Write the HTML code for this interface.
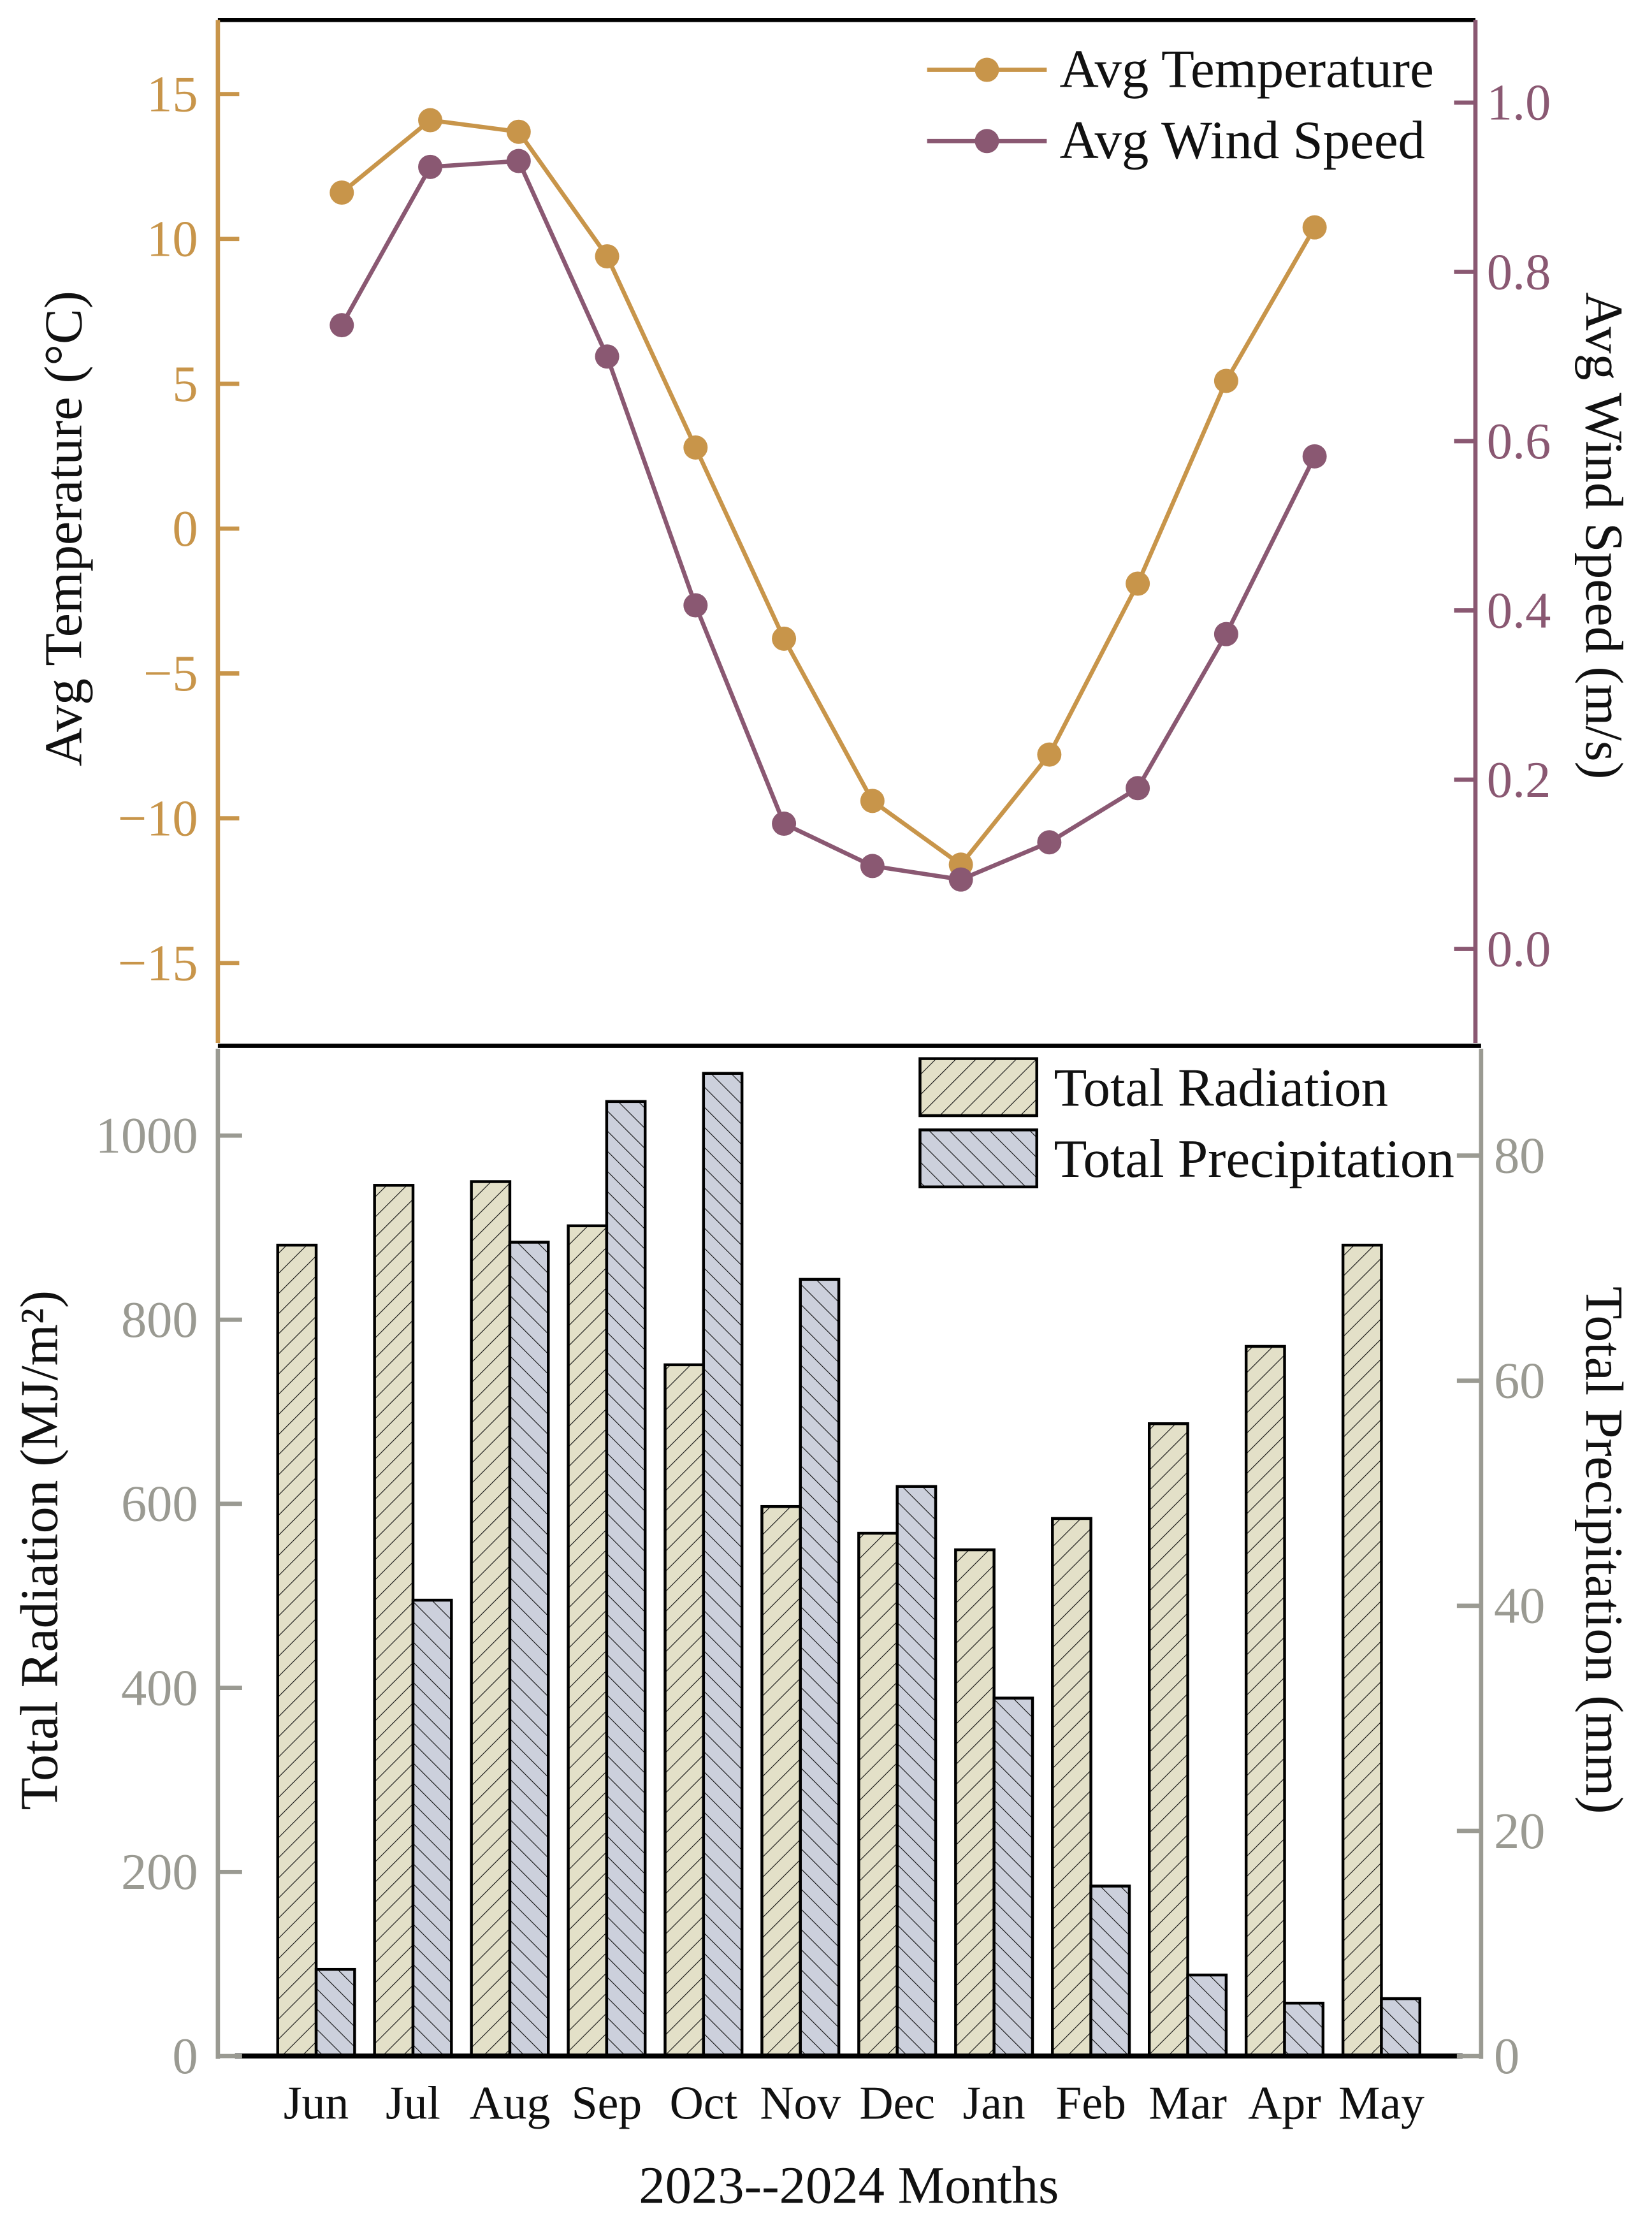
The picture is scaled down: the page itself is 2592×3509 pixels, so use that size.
<!DOCTYPE html>
<html><head><meta charset="utf-8"><style>
html,body{margin:0;padding:0;background:#fff;}
svg{display:block;font-family:"Liberation Serif",serif;}
</style></head><body>
<svg id="chart" width="2592" height="3509" viewBox="0 0 1160 1570" preserveAspectRatio="none" xmlns="http://www.w3.org/2000/svg">
<defs>
<pattern id="hatchR" patternUnits="userSpaceOnUse" width="10" height="10" patternTransform="rotate(45)">
<rect width="10" height="10" fill="#E3E0C8"/><line x1="0" y1="0" x2="0" y2="10" stroke="#111" stroke-width="1"/></pattern>
<pattern id="hatchP" patternUnits="userSpaceOnUse" width="10" height="10" patternTransform="rotate(-45)">
<rect width="10" height="10" fill="#CCD0DC"/><line x1="0" y1="0" x2="0" y2="10" stroke="#111" stroke-width="1"/></pattern>
</defs>
<g id="topPanel"></g>
<g id="bottomPanel"></g>
</svg>
<script>
const months=["Jun","Jul","Aug","Sep","Oct","Nov","Dec","Jan","Feb","Mar","Apr","May"];
const tempValues=[11.6,14.1,13.7,9.4,2.8,-3.8,-9.4,-11.6,-7.8,-1.9,5.1,10.4];
const windValues=[0.737,0.924,0.931,0.70,0.406,0.148,0.098,0.082,0.126,0.19,0.372,0.582];
const radiationValues=[881,946,950,902,751,597,568,550,584,687,771,881];
const precipValues=[7.7,40.5,72.3,84.8,87.3,69,50.6,31.8,15.1,7.2,4.7,5.1];
const tempTicks=[15,10,5,0,-5,-10,-15];
const windTicks=[1.0,0.8,0.6,0.4,0.2,0.0];
const radTicks=[0,200,400,600,800,1000];
const precTicks=[0,20,40,60,80];

const NS="http://www.w3.org/2000/svg";
function mk(tag,attrs,parent,text){const el=document.createElementNS(NS,tag);for(const k in attrs)el.setAttribute(k,attrs[k]);if(text!==undefined)el.textContent=text;parent.appendChild(el);return el;}
const topG=document.getElementById('topPanel'), botG=document.getElementById('bottomPanel');
const TC="#C8954A", WC="#8A5872", GC="#9A9A92";
const TF=36, AF=37.5;
const xTop=i=>240+i*62.1;
const yT=v=>371-v*20.33;
const yW=v=>666-v*594;
let e;
e=mk('line',{x1:153,y1:14,x2:1036,y2:14,stroke:'#000','stroke-width':3},topG);

e=mk('line',{x1:153,y1:14,x2:153,y2:732,stroke:TC,'stroke-width':3},topG);

e=mk('line',{x1:1036,y1:14,x2:1036,y2:732,stroke:WC,'stroke-width':3},topG);

tempTicks.forEach(t=>{
 e=mk('line',{x1:153,y1:yT(t),x2:168,y2:yT(t),stroke:TC,'stroke-width':3},topG);
 
 e=mk('text',{x:139,y:yT(t)+12,'text-anchor':'end','font-size':TF,fill:TC},topG,(t<0?'\u2212'+(-t):t));
 
});
windTicks.forEach(t=>{
 e=mk('line',{x1:1021,y1:yW(t),x2:1036,y2:yW(t),stroke:WC,'stroke-width':3},topG);
 
 e=mk('text',{x:1044,y:yW(t)+12,'font-size':TF,fill:WC},topG,t.toFixed(1));
 
});
e=mk('text',{x:0,y:0,'font-size':AF,'text-anchor':'middle',transform:'translate(57,371) rotate(-90)',fill:'#111'},topG,'Avg Temperature (°C)');

e=mk('text',{x:0,y:0,'font-size':AF,'text-anchor':'middle',transform:'translate(1114,376) rotate(90)',fill:'#111'},topG,'Avg Wind Speed (m/s)');

function series(vals,ys,col,name){
 e=mk('polyline',{points:vals.map((v,i)=>xTop(i)+','+ys(v)).join(' '),fill:'none',stroke:col,'stroke-width':3},topG);
 
 vals.forEach((v,i)=>{e=mk('circle',{cx:xTop(i),cy:ys(v),r:8.5,fill:col},topG);
 });
}
series(tempValues,yT,TC,'temperature');
series(windValues,yW,WC,'wind-speed');
[[49,TC,'Avg Temperature','legend-temperature'],[99,WC,'Avg Wind Speed','legend-wind-speed']].forEach(l=>{
 const g=mk('g',{},topG);
 mk('line',{x1:651,y1:l[0],x2:735,y2:l[0],stroke:l[1],'stroke-width':3},g);
 mk('circle',{cx:693,cy:l[0],r:8.5,fill:l[1]},g);
 mk('text',{x:744,y:l[0]+12,'font-size':38,fill:'#111'},g,l[2]);
});
const xB=i=>222+i*68.0;
const yR=v=>1443-v*0.646;
const yP=v=>1443-v*7.9;
const bw=27;
radiationValues.forEach((v,i)=>{
 e=mk('rect',{x:xB(i)-bw,y:yR(v),width:bw,height:1443-yR(v),fill:'url(#hatchR)',stroke:'#000','stroke-width':2},botG);
 
});
precipValues.forEach((v,i)=>{
 e=mk('rect',{x:xB(i),y:yP(v),width:bw,height:1443-yP(v),fill:'url(#hatchP)',stroke:'#000','stroke-width':2},botG);
 
});
e=mk('line',{x1:153,y1:734,x2:1040,y2:734,stroke:'#000','stroke-width':3},botG);

e=mk('line',{x1:153,y1:736,x2:153,y2:1445,stroke:GC,'stroke-width':3},botG);

e=mk('line',{x1:1040,y1:736,x2:1040,y2:1445,stroke:GC,'stroke-width':3},botG);

e=mk('line',{x1:165,y1:1443,x2:1027,y2:1443,stroke:'#000','stroke-width':3.5},botG);

radTicks.forEach(t=>{
 e=mk('line',{x1:153,y1:yR(t),x2:170,y2:yR(t),stroke:GC,'stroke-width':3},botG);
 
 e=mk('text',{x:139,y:yR(t)+12,'text-anchor':'end','font-size':TF,fill:GC},botG,t);
 
});
precTicks.forEach(t=>{
 e=mk('line',{x1:1023,y1:yP(t),x2:1040,y2:yP(t),stroke:GC,'stroke-width':3},botG);
 
 e=mk('text',{x:1049,y:yP(t)+12,'font-size':TF,fill:GC},botG,t);
 
});
months.forEach((m,i)=>{
 e=mk('text',{x:xB(i),y:1487,'text-anchor':'middle','font-size':33,fill:'#111'},botG,m);
 
});
e=mk('text',{x:596,y:1546,'text-anchor':'middle','font-size':37,fill:'#111'},botG,'2023--2024 Months');

e=mk('text',{x:0,y:0,'font-size':AF,'text-anchor':'middle',transform:'translate(40,1088) rotate(-90)',fill:'#111'},botG,'Total Radiation (MJ/m²)');

e=mk('text',{x:0,y:0,'font-size':AF,'text-anchor':'middle',transform:'translate(1114,1088) rotate(90)',fill:'#111'},botG,'Total Precipitation (mm)');

[[743,'url(#hatchR)','Total Radiation','legend-radiation'],[793,'url(#hatchP)','Total Precipitation','legend-precipitation']].forEach(l=>{
 const g=mk('g',{},botG);
 mk('rect',{x:646,y:l[0],width:82,height:40,fill:l[1],stroke:'#000','stroke-width':2},g);
 mk('text',{x:740,y:l[0]+33,'font-size':38,fill:'#111'},g,l[2]);
});
</script>
</body></html>
